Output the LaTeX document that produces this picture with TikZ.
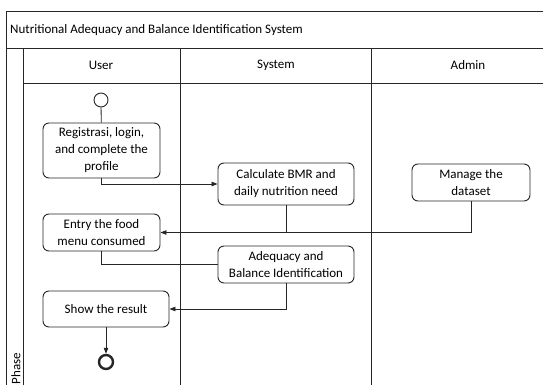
\documentclass[tikz,border=0pt]{standalone}
\usepackage{fontspec}
\setmainfont{Carlito}
\usetikzlibrary{arrows.meta}
\begin{document}
\begin{tikzpicture}[x=1pt,y=-1pt,
  frame/.style={draw=black!85,line width=0.9pt},
  lbl/.style={font=\fontsize{13}{16}\selectfont},
  act/.style={draw=black!85,line width=0.9pt,rounded corners=6pt,align=center,
    font=\fontsize{13}{17}\selectfont,inner sep=0pt},
  flow/.style={draw=black!85,line width=0.8pt},
  arr/.style={flow,-{Triangle[length=6pt,width=4.5pt]}}]
\useasboundingbox (0,0) rectangle (543,385);
\begin{scope}
\clip (0,0) rectangle (543,385);
% pool frame, title row and lane headers
\draw[frame] (6,11) rectangle (620,420);
\draw[frame] (6,48) -- (620,48);
\draw[frame] (23,48) -- (23,420);
\draw[frame] (23,83) -- (620,83);
\draw[frame] (180,48) -- (180,420);
\draw[frame] (371,48) -- (371,420);
\node[anchor=west,lbl,inner sep=0pt] (title) at (10,30)
  {Nutritional Adequacy and Balance Identification System};
\node[lbl] (huser) at (101,65) {User};
\node[lbl] (hsys) at (276,65) {System};
\node[lbl] (hadm) at (468,65) {Admin};
\node[rotate=90,anchor=east,lbl,inner sep=0pt] (phase) at (16,353) {Phase};

% activities
\node[circle,draw=black!85,line width=0.9pt,minimum size=14pt,inner sep=0pt] (start) at (101,100) {};
\node[act,minimum width=117pt,minimum height=55pt] (reg) at (101.5,150.5)
  {Registrasi, login,\\and complete the\\profile};
\node[act,minimum width=136pt,minimum height=42pt] (bmr) at (286,184)
  {Calculate BMR and\\daily nutrition need};
\node[act,minimum width=118pt,minimum height=37pt] (data) at (471,182.5)
  {Manage the\\dataset};
\node[act,minimum width=117pt,minimum height=37pt] (entry) at (101.5,232.5)
  {Entry the food\\menu consumed};
\node[act,minimum width=136pt,minimum height=37pt] (ident) at (286,264.5)
  {Adequacy and\\Balance Identification};
\node[act,minimum width=126pt,minimum height=36pt] (show) at (106,309)
  {Show the result};
\node[circle,draw=black!85,line width=2.4pt,minimum size=14pt,inner sep=0pt] (end) at (106,362) {};

% control flow
\coordinate (j2) at (286,232);
\draw[flow] (start) -- (reg);
\draw[arr] (reg.south) |- (bmr.west);
\draw[flow] (bmr.south) -- (j2);
\draw[arr] (data.south) |- (entry.east);
\draw[flow] (entry.south) |- (ident.west);
\draw[arr] (ident.south) |- (show.east);
\draw[arr] (show.south) -- (end.north);
\end{scope}
\end{tikzpicture}
\end{document}
